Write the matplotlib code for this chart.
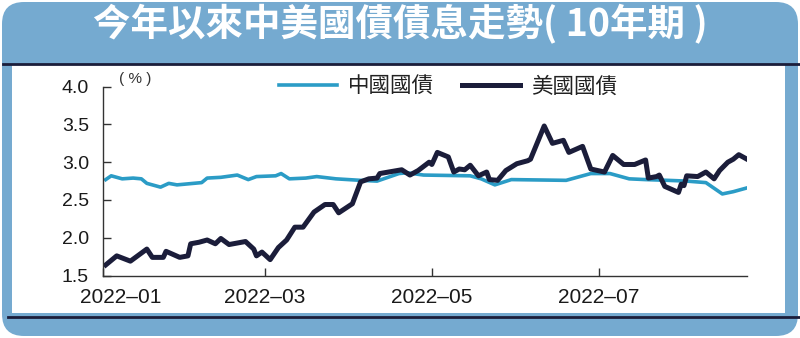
import pandas as pd
import matplotlib
matplotlib.use("Agg")
import matplotlib.pyplot as plt
import matplotlib.dates as mdates
from matplotlib.patches import FancyBboxPatch, Rectangle
from matplotlib.lines import Line2D
from matplotlib.transforms import IdentityTransform, ScaledTranslation

# 美國國債 10年期 (%)
us_dates = ["2022-01-02", "2022-01-06", "2022-01-11", "2022-01-17", "2022-01-19",
            "2022-01-23", "2022-01-24", "2022-01-29", "2022-02-01", "2022-02-02",
            "2022-02-05", "2022-02-08", "2022-02-11", "2022-02-13", "2022-02-16",
            "2022-02-22", "2022-02-25", "2022-02-26", "2022-02-28", "2022-03-03",
            "2022-03-06", "2022-03-09", "2022-03-12", "2022-03-15", "2022-03-19",
            "2022-03-23", "2022-03-26", "2022-03-28", "2022-04-02", "2022-04-05",
            "2022-04-08", "2022-04-11", "2022-04-12", "2022-04-20", "2022-04-23",
            "2022-04-26", "2022-04-30", "2022-05-01", "2022-05-03", "2022-05-07",
            "2022-05-09", "2022-05-11", "2022-05-13", "2022-05-15", "2022-05-18",
            "2022-05-21", "2022-05-22", "2022-05-25", "2022-05-28", "2022-06-01",
            "2022-06-05", "2022-06-06", "2022-06-11", "2022-06-14", "2022-06-18",
            "2022-06-20", "2022-06-25", "2022-06-28", "2022-07-03", "2022-07-06",
            "2022-07-10", "2022-07-14", "2022-07-18", "2022-07-19", "2022-07-22",
            "2022-07-23", "2022-07-25", "2022-07-30", "2022-07-31", "2022-08-01",
            "2022-08-02", "2022-08-06", "2022-08-09", "2022-08-12", "2022-08-14",
            "2022-08-17", "2022-08-19", "2022-08-21", "2022-08-23", "2022-08-24"]
us_yield = [1.64, 1.76, 1.69, 1.85, 1.74,
            1.74, 1.82, 1.74, 1.76, 1.92,
            1.94, 1.97, 1.92, 1.99, 1.91,
            1.95, 1.85, 1.76, 1.81, 1.71,
            1.87, 1.97, 2.14, 2.14, 2.34,
            2.44, 2.44, 2.33, 2.45, 2.74,
            2.78, 2.79, 2.85, 2.90, 2.83,
            2.89, 3.00, 2.97, 3.13, 3.07,
            2.87, 2.91, 2.90, 2.96, 2.82,
            2.87, 2.77, 2.76, 2.89, 2.98,
            3.02, 3.04, 3.48, 3.25, 3.29,
            3.13, 3.21, 2.91, 2.87, 3.09,
            2.97, 2.97, 3.03, 2.79, 2.81,
            2.83, 2.68, 2.60, 2.71, 2.69,
            2.82, 2.81, 2.87, 2.78, 2.89,
            3.00, 3.04, 3.10, 3.06, 3.04]

# 中國國債 10年期 (%)
cn_dates = ["2022-01-02", "2022-01-04", "2022-01-08", "2022-01-12", "2022-01-15",
            "2022-01-17", "2022-01-22", "2022-01-25", "2022-01-28", "2022-02-06",
            "2022-02-08", "2022-02-13", "2022-02-19", "2022-02-23", "2022-02-26",
            "2022-03-05", "2022-03-07", "2022-03-10", "2022-03-16", "2022-03-20",
            "2022-03-27", "2022-04-05", "2022-04-11", "2022-04-19", "2022-04-22",
            "2022-04-28", "2022-05-15", "2022-05-19", "2022-05-24", "2022-05-30",
            "2022-06-19", "2022-06-24", "2022-06-28", "2022-07-05", "2022-07-12",
            "2022-07-18", "2022-07-26", "2022-08-02", "2022-08-09", "2022-08-15",
            "2022-08-19", "2022-08-24"]
cn_yield = [2.77, 2.82, 2.78, 2.79, 2.78,
            2.72, 2.67, 2.72, 2.70, 2.73,
            2.79, 2.80, 2.83, 2.77, 2.81,
            2.82, 2.85, 2.78, 2.79, 2.81,
            2.78, 2.76, 2.75, 2.85, 2.86,
            2.83, 2.82, 2.78, 2.70, 2.77,
            2.76, 2.81, 2.85, 2.85, 2.78,
            2.77, 2.76, 2.75, 2.73, 2.58,
            2.61, 2.66]

y_ticks = [1.5, 2.0, 2.5, 3.0, 3.5, 4.0]
x_ticks = ["2022-01-01", "2022-03-01", "2022-05-01", "2022-07-01"]

title = "今年以來中美國債債息走勢( 10年期 )"

BLUE = "#75aad0"
NAVY = "#1b1d3a"
TEAL = "#2b9cc6"
CJK = ["Noto Sans CJK TC", "DejaVu Sans"]

plt.rcParams["font.family"] = ["Liberation Sans", "DejaVu Sans"]

fig = plt.figure(figsize=(8, 3.38), dpi=100)
fig.patch.set_facecolor("white")

# background frame, drawn in pixels
px = IdentityTransform()
fig.add_artist(FancyBboxPatch((2, 2), 796, 334, boxstyle="round,pad=0,rounding_size=22",
                              transform=px, facecolor=BLUE, edgecolor="none", zorder=-10))
fig.add_artist(Rectangle((12, 25), 773, 249, transform=px, facecolor="white",
                         edgecolor="none", zorder=-9))
fig.add_artist(Line2D([3, 800], [274, 274], transform=px, color=NAVY, lw=2, zorder=-8))
fig.add_artist(Line2D([8, 800], [21, 21], transform=px, color=NAVY, lw=2, zorder=-8))

fig.text(0.5, 1 - 24 / 338, title, ha="center", va="center", color="white",
         fontsize=27, fontweight="bold", family=CJK)

ax = fig.add_axes([103 / 800, 1 - 275.5 / 338, 644 / 800, 188.8 / 338])
ax.patch.set_visible(False)

ax.plot(pd.to_datetime(cn_dates), cn_yield, color=TEAL, lw=2.6, label="中國國債",
        solid_joinstyle="round")
ax.plot(pd.to_datetime(us_dates), us_yield, color=NAVY, lw=3.6, label="美國國債",
        solid_joinstyle="round")

ax.set_xlim(pd.Timestamp("2022-01-01"), pd.Timestamp("2022-08-24"))
ax.set_ylim(1.5, 4.0)
ax.set_yticks(y_ticks)
ax.set_yticklabels([f"{v:.1f}" for v in y_ticks])
ax.set_xticks(pd.to_datetime(x_ticks))
ax.xaxis.set_major_formatter(mdates.DateFormatter("%Y–%m"))

for s in ["top", "right"]:
    ax.spines[s].set_visible(False)
for s in ["left", "bottom"]:
    ax.spines[s].set_color("#333333")
    ax.spines[s].set_linewidth(1.0)

ax.tick_params(direction="in", length=6, width=1, color="#333333",
               labelcolor="#1a1a1a")
ax.tick_params(axis="y", pad=10, labelsize=14)
ax.tick_params(axis="x", pad=9, labelsize=15)

# first date label sits a bit right of its tick, as in the print
first = ax.get_xticklabels()[0]
first.set_transform(first.get_transform() + ScaledTranslation(18 / 100, 0, fig.dpi_scale_trans))

ax.text(0.05, 1.04, "( % )", transform=ax.transAxes, ha="center", va="center",
        fontsize=11, color="#333333")

leg = ax.legend(loc="center", bbox_to_anchor=(0.536, 1.0), ncol=2, frameon=False,
                prop={"family": CJK, "size": 15.5}, handlelength=2.7,
                handletextpad=0.5, columnspacing=1.3)
for t in leg.get_texts():
    t.set_color("#222222")

fig.savefig("out.png", dpi=100)
